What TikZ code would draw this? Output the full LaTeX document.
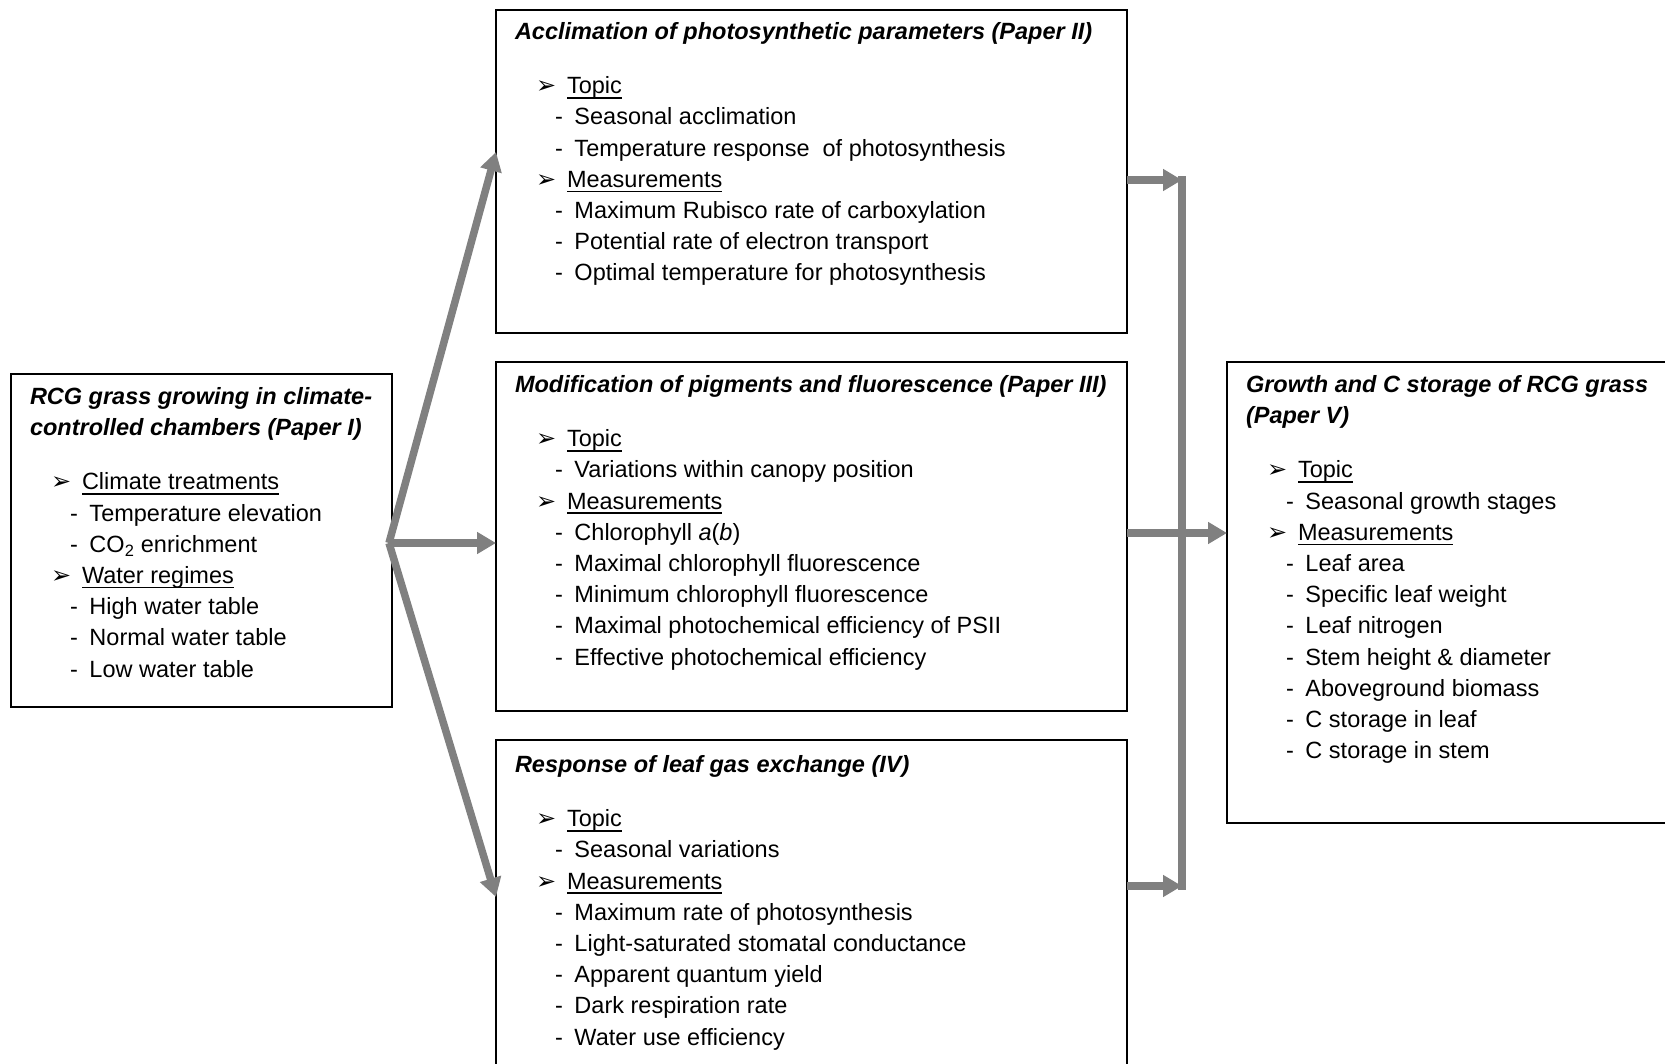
\documentclass[tikz,border=0pt]{standalone}
\usepackage{fontspec}
\setmainfont{Liberation Sans}
\newfontfamily\dvfont{DejaVu Sans}
\usetikzlibrary{arrows.meta}
\definecolor{linegray}{RGB}{128,128,128}
\newcommand\undl[1]{\setbox0\hbox{#1}\rlap{\vrule height -3.3pt depth 4.9pt width \wd0}\box0}
\newcommand\bul{{\dvfont\fontsize{24pt}{24pt}\selectfont ➢}}
\newcommand\hd[1]{\par\hspace*{21pt}\makebox[31pt][l]{\bul}\undl{#1}}
\newcommand\itm[1]{\par\hspace*{40pt}\makebox[19.5pt][l]{-}#1}
\newcommand\ttl[1]{{\bfseries\itshape #1}\par\vspace{23.5pt}}
\newcommand\boxtext[1]{\parbox[t]{640pt}{\fontsize{23.5pt}{31.2pt}\selectfont\parindent0pt\parskip0pt #1}}
\tikzset{
  panel/.style={draw=black, line width=1.6pt, anchor=north west, inner sep=0pt, outer sep=0pt},
  txt/.style={anchor=base west, inner sep=0pt, outer sep=0pt},
  conn/.style={draw=linegray, line width=7.5pt, -{Triangle[length=19pt,width=21pt]}},
  gline/.style={draw=linegray, line width=7.5pt, line cap=rect}
}
\begin{document}
\begin{tikzpicture}[x=1pt,y=-1pt]
\useasboundingbox (0,0) rectangle (1665,1063);
\clip (0,0) rectangle (1665,1063);
\fill[white] (0,0) rectangle (1665,1063);

% boxes
\node[panel, minimum width=381pt, minimum height=333pt] (L) at (11,374) {};
\node[panel, minimum width=631pt, minimum height=323pt] (A) at (496,10) {};
\node[panel, minimum width=631pt, minimum height=349pt] (B) at (496,362) {};
\node[panel, minimum width=631pt, minimum height=400pt] (C) at (496,740) {};
\node[panel, minimum width=500pt, minimum height=461pt] (R) at (1227,362) {};

% texts
\node[txt] (Lt) at (30,404) {\boxtext{%
\ttl{RCG grass growing in climate-\\controlled chambers (Paper I)}%
\hd{Climate treatments}
\itm{Temperature elevation}
\itm{CO\textsubscript{2} enrichment}
\hd{Water regimes}
\itm{High water table}
\itm{Normal water table}
\itm{Low water table}}};

\node[txt] (At) at (515,39) {\boxtext{%
\ttl{Acclimation of photosynthetic parameters (Paper II)}%
\hd{Topic}
\itm{Seasonal acclimation}
\itm{Temperature response\ \ of photosynthesis}
\hd{Measurements}
\itm{Maximum Rubisco rate of carboxylation}
\itm{Potential rate of electron transport}
\itm{Optimal temperature for photosynthesis}}};

\node[txt] (Bt) at (515,392) {\boxtext{%
\ttl{Modification of pigments and fluorescence (Paper III)}%
\hd{Topic}
\itm{Variations within canopy position}
\hd{Measurements}
\itm{Chlorophyll \textit{a}(\textit{b})}
\itm{Maximal chlorophyll fluorescence}
\itm{Minimum chlorophyll fluorescence}
\itm{Maximal photochemical efficiency of PSII}
\itm{Effective photochemical efficiency}}};

\node[txt] (Ct) at (515,772) {\boxtext{%
\ttl{Response of leaf gas exchange (IV)}%
\hd{Topic}
\itm{Seasonal variations}
\hd{Measurements}
\itm{Maximum rate of photosynthesis}
\itm{Light-saturated stomatal conductance}
\itm{Apparent quantum yield}
\itm{Dark respiration rate}
\itm{Water use efficiency}}};

\node[txt] (Rt) at (1246,392) {\boxtext{%
\ttl{Growth and C storage of RCG grass\\(Paper V)}%
\hd{Topic}
\itm{Seasonal growth stages}
\hd{Measurements}
\itm{Leaf area}
\itm{Specific leaf weight}
\itm{Leaf nitrogen}
\itm{Stem height \& diameter}
\itm{Aboveground biomass}
\itm{C storage in leaf}
\itm{C storage in stem}}};

% connectors
\coordinate (src) at (389,543);
\coordinate (ta) at (497,152);
\coordinate (tb) at (497,543);
\coordinate (tc) at (497,897);
\draw[conn] (src) -- (A.west|-ta);
\draw[conn] (src) -- (B.west|-tb);
\draw[conn] (src) -- (C.west|-tc);

\coordinate (j1) at (1182,180);
\coordinate (j2) at (1182,886);
\coordinate (mid) at (1182,533);
\draw[gline] (j1) -- (j2);
\draw[conn] (A.east|-j1) -- (j1);
\draw[conn] (C.east|-j2) -- (j2);
\draw[conn] (B.east|-mid) -- (R.west|-mid);
\end{tikzpicture}
\end{document}
